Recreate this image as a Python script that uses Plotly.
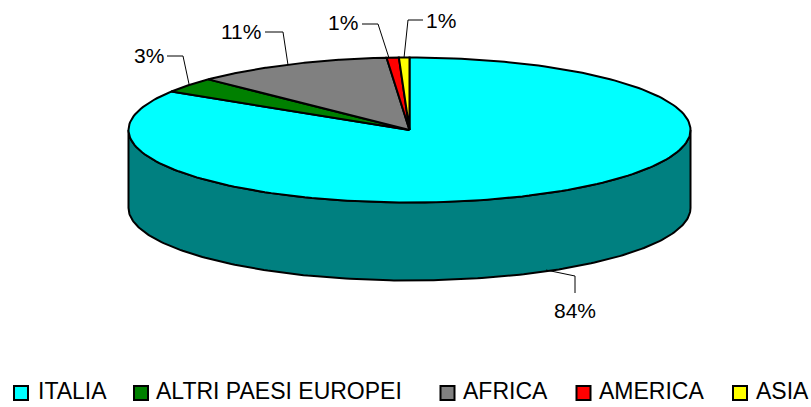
import numpy as np
import plotly.graph_objects as go

# ---- data -------------------------------------------------------------
categories = ["ITALIA", "ALTRI PAESI EUROPEI", "AFRICA", "AMERICA", "ASIA"]
values = [83.9, 3.4, 11.4, 0.7, 0.6]
value_labels = ["84%", "3%", "11%", "1%", "1%"]

# ---- style / layout ---------------------------------------------------
colors = ["#00FFFF", "#008000", "#808080", "#FF0000", "#FFFF00"]
side_color = "#008080"
W, H = 811, 407
CX, CY, RX, RY, DEPTH = 409.5, 130, 281, 72.5, 78
FONT = "Liberation Sans"
LABEL_SIZE = 21
LEGEND_SIZE = 23
legend_swatch_x = [21, 141, 447.5, 583.5, 740]
legend_text_x = [37, 155, 462, 598, 755]
legend_y = 393
legend_text_y = 391
# label centre, then the leader line's elbow(s) and its end on the pie
label_pos = [(575, 310), (149, 55), (241, 31), (343, 22), (441, 20)]
leader_lines = [
    [(575, 293), (575, 276), (546, 270)],
    [(167, 56), (183, 56), (189, 84)],
    [(265, 32), (283, 32), (288, 65)],
    [(362, 24), (378, 24), (389, 58)],
    [(423, 20), (408, 20), (404, 58)],
]


def ellipse(a_start, a_end, cy=CY, n=200):
    """Points on the pie rim; angles in degrees clockwise from 12 o'clock."""
    t = np.radians(np.linspace(a_start, a_end, n))
    return CX + RX * np.sin(t), cy - RY * np.cos(t)


fig = go.Figure()

# side wall (lower half of the rim, extruded)
xa, ya = ellipse(90, 270)
xb, yb = ellipse(270, 90, cy=CY + DEPTH)
fig.add_trace(go.Scatter(
    x=np.r_[xa, xb, xa[0]], y=np.r_[ya, yb, ya[0]],
    mode="lines", fill="toself", fillcolor=side_color,
    line=dict(color="black", width=2), hoverinfo="skip", showlegend=False))

# top slices, computed from the values
total = sum(values)
angle = 0.0
for cat, val, col in zip(categories, values, colors):
    sweep = 360.0 * val / total
    xs, ys = ellipse(angle, angle + sweep)
    fig.add_trace(go.Scatter(
        x=np.r_[CX, xs, CX], y=np.r_[CY, ys, CY],
        mode="lines", fill="toself", fillcolor=col, name=cat,
        line=dict(color="black", width=2), showlegend=False))
    angle += sweep

# leader lines
for pts in leader_lines:
    fig.add_trace(go.Scatter(
        x=[p[0] for p in pts], y=[p[1] for p in pts], mode="lines",
        line=dict(color="black", width=1), hoverinfo="skip", showlegend=False))

# value labels
for txt, (x, y) in zip(value_labels, label_pos):
    fig.add_annotation(x=x, y=y, text=txt, showarrow=False,
                       font=dict(family=FONT, size=LABEL_SIZE, color="black"),
                       xanchor="center", yanchor="middle")

# legend row
fig.add_trace(go.Scatter(
    x=legend_swatch_x, y=[legend_y] * len(categories), mode="markers",
    marker=dict(symbol="square", size=14, color=colors,
                line=dict(color="black", width=2)),
    hoverinfo="skip", showlegend=False))
for cat, x in zip(categories, legend_text_x):
    fig.add_annotation(x=x, y=legend_text_y, text=cat, showarrow=False,
                       font=dict(family=FONT, size=LEGEND_SIZE, color="black"),
                       xanchor="left", yanchor="middle", xshift=-1)

fig.update_layout(
    width=W, height=H, margin=dict(l=0, r=0, t=0, b=0),
    paper_bgcolor="white", plot_bgcolor="white", showlegend=False,
    xaxis=dict(range=[0, W], visible=False, fixedrange=True),
    yaxis=dict(range=[H, 0], visible=False, fixedrange=True),
)
fig.write_html(
    "out.html",
    config={"displayModeBar": False},
    post_script="document.body.style.margin='0';document.body.style.overflow='hidden';",
)
